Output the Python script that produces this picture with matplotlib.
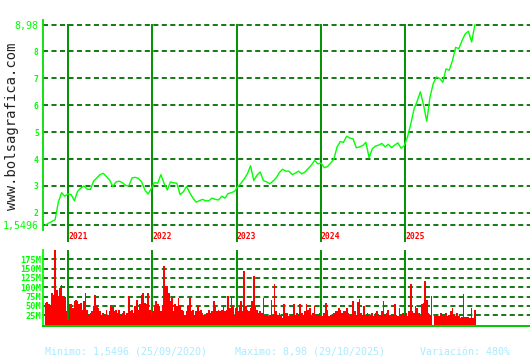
import matplotlib
matplotlib.use('Agg')
import matplotlib.pyplot as plt
import matplotlib.dates as mdates
import matplotlib.transforms as mtransforms
import numpy as np
import pandas as pd

# ---------------- data ----------------
price = [1.55, 1.62, 1.68, 1.75, 2.40, 2.75, 2.62, 2.70, 2.68, 2.45,
         2.80, 2.92, 3.00, 2.88, 2.87, 3.18, 3.30, 3.42, 3.47, 3.35,
         3.22, 2.98, 3.15, 3.18, 3.12, 3.02, 3.00, 3.30, 3.32, 3.28,
         3.15, 2.85, 2.70, 2.90, 3.13, 3.10, 3.42, 3.10, 2.85, 3.15,
         3.12, 3.10, 2.68, 2.78, 2.98, 2.75, 2.55, 2.40, 2.45, 2.50,
         2.45, 2.45, 2.55, 2.50, 2.48, 2.62, 2.55, 2.72, 2.75, 2.80,
         2.98, 3.10, 3.26, 3.45, 3.75, 3.20, 3.40, 3.52, 3.20, 3.15,
         3.08, 3.18, 3.30, 3.50, 3.62, 3.55, 3.55, 3.42, 3.48, 3.55,
         3.45, 3.52, 3.65, 3.78, 3.95, 3.82, 3.85, 3.68, 3.72, 3.85,
         4.00, 4.45, 4.65, 4.62, 4.85, 4.78, 4.75, 4.42, 4.45, 4.50,
         4.62, 4.05, 4.38, 4.48, 4.52, 4.58, 4.45, 4.55, 4.42, 4.52,
         4.60, 4.40, 4.50, 4.83, 5.30, 5.85, 6.15, 6.50, 6.00, 5.40,
         6.30, 6.80, 7.05, 7.00, 6.85, 7.35, 7.30, 7.65, 8.15, 8.10,
         8.40, 8.65, 8.75, 8.35, 8.98]

volume_m = [58, 60, 55, 52, 85, 80, 200, 94, 76, 98, 107, 76, 73, 36, 13, 54, 55, 45, 63, 67,
            63, 54, 58, 40, 62, 85, 40, 27, 31, 36, 49, 80, 49, 45, 36, 27, 31, 27, 40, 27,
            36, 52, 46, 36, 40, 31, 40, 27, 31, 36, 27, 31, 76, 36, 40, 31, 49, 67, 40, 54,
            80, 85, 58, 54, 85, 40, 27, 36, 49, 63, 54, 49, 36, 49, 156, 104, 103, 85, 63, 71,
            36, 54, 49, 71, 49, 40, 36, 27, 36, 49, 71, 36, 40, 27, 36, 49, 36, 40, 31, 27,
            22, 31, 40, 31, 36, 63, 49, 36, 40, 36, 40, 49, 36, 40, 76, 45, 71, 49, 27, 45,
            36, 49, 63, 36, 145, 49, 40, 36, 45, 63, 131, 49, 40, 31, 36, 31,
            71, 22, 27, 22, 27, 67, 27, 109, 36, 27, 31, 27, 18, 54, 31, 31, 22, 25, 27, 54,
            27, 31, 27, 54, 31, 27, 36, 54, 40, 45, 27, 31, 49, 27, 27, 31, 22, 22, 31, 58,
            40, 22, 27, 27, 31, 36, 36, 45, 40, 31, 36, 36, 45, 31, 22, 27, 63, 36, 27, 61,
            70, 31, 27, 49, 27, 31, 22, 27, 31, 22, 31, 36, 27, 27, 36, 63, 27, 31, 40, 27,
            22, 27, 55, 27, 22, 45, 27, 31, 27, 31, 22, 36, 109, 36, 31, 49, 45, 31, 22, 54,
            58, 118, 67, 31, 27, 76, 0, 27, 27, 22, 22, 31, 27, 22, 31, 22, 27, 36, 45, 27,
            22, 31, 22, 18, 20, 82, 20, 20, 20, 18, 45, 18, 40]

start_date = '2020-09-25'
end_date = '2025-10-29'
years = [2021, 2022, 2023, 2024, 2025]
price_ticks = [1.5496, 2, 3, 4, 5, 6, 7, 8, 8.98]
price_tick_labels = ['1,5496', '2', '3', '4', '5', '6', '7', '8', '8,98']
vol_ticks_m = [25, 50, 75, 100, 125, 150, 175]
vol_tick_labels = ['25M', '50M', '75M', '100M', '125M', '150M', '175M']
footer = ['Minimo: 1,5496 (25/09/2020)', 'Maximo: 8,98 (29/10/2025)', 'Variación: 480%']
watermark = 'www.bolsagrafica.com'

# ---------------- layout ----------------
W, H = 530, 360
fig = plt.figure(figsize=(W / 100, H / 100), dpi=100)
fig.patch.set_facecolor('white')

def fx(px):
    return px / W

def fy(py):
    return 1 - py / H

MONO = 'DejaVu Sans Mono'
GRID = '#006e00'
YEARLINE = '#009000'
BRIGHT = '#00ff00'

xmin = mdates.date2num(pd.Timestamp('2020-09-14'))
xmax = mdates.date2num(pd.Timestamp('2026-06-25'))

# main price axes: pixel rows 20 .. 242
ax1 = fig.add_axes([fx(43), fy(242), 487 / W, 222 / H])
ppu = 200 / (8.98 - 1.5496)
ax1.set_ylim(1.5496 - 17 / ppu, 8.98 + 5 / ppu)
ax1.set_xlim(xmin, xmax)
for s in ax1.spines.values():
    s.set_visible(False)
ax1.set_facecolor('none')

for v in price_ticks:
    ax1.axhline(v, color=GRID, lw=1.3, dashes=(2.8, 1.9), zorder=1)

yr_ymax = (242 - 25) / 222
trans = mtransforms.blended_transform_factory(ax1.transData, ax1.transAxes)
for y in years:
    xd = mdates.date2num(pd.Timestamp(f'{y}-01-01'))
    ax1.axvline(xd, ymin=0, ymax=yr_ymax, color=YEARLINE, lw=1.4, zorder=2)
    ax1.text(xd, (242 - 236.5) / 222, str(y),
             transform=trans, color='#ff0000', fontsize=5.8, fontweight='bold',
             family=MONO, ha='left', va='center', zorder=4)

# left spine
ax1.plot([0, 0], [1.0, (242 - 230) / 222], transform=ax1.transAxes,
         color='#00e000', lw=1.3, clip_on=False, zorder=3)

pdates = pd.date_range(start_date, end_date, periods=len(price))
ax1.plot(mdates.date2num(pdates), price, color=BRIGHT, lw=1.0, zorder=3)

ax1.set_xticks([])
ax1.set_yticks(price_ticks)
ax1.set_yticklabels(price_tick_labels)
ax1.tick_params(axis='y', length=0, pad=3.0, colors=BRIGHT)
for lab in ax1.get_yticklabels():
    lab.set_family(MONO)
    if ',' in lab.get_text():
        lab.set_fontsize(7.2)
        lab.set_fontweight('normal')
    else:
        lab.set_fontsize(5.8)
        lab.set_fontweight('bold')

# volume axes: pixel rows 250 .. 326
ax2 = fig.add_axes([fx(43), fy(326), 487 / W, 76 / H])
pxm = 56 / 150.0
zero_px = 315.3 + 25 * pxm
ax2.set_ylim(-(326 - zero_px) / pxm * 1e6, (zero_px - 250) / pxm * 1e6)
ax2.set_xlim(xmin, xmax)
for s in ax2.spines.values():
    s.set_visible(False)
ax2.set_facecolor('none')

for v in vol_ticks_m:
    ax2.axhline(v * 1e6, color=GRID, lw=1.3, dashes=(2.8, 1.9), zorder=1)
for y in years:
    ax2.axvline(mdates.date2num(pd.Timestamp(f'{y}-01-01')), color=YEARLINE, lw=1.4, zorder=1)

vdates = pd.date_range(start_date, end_date, periods=len(volume_m))
step = (mdates.date2num(vdates[1]) - mdates.date2num(vdates[0]))
ax2.bar(mdates.date2num(vdates), np.array(volume_m) * 1e6, width=step * 1.05,
        color='#ff0000', linewidth=0, align='center', zorder=2)

ax2.plot([0, 0], [0, 1], transform=ax2.transAxes, color=BRIGHT, lw=1.3, clip_on=False, zorder=3)
ax2.plot([0, 1], [0, 0], transform=ax2.transAxes, color='#00c800', lw=1.4, clip_on=False, zorder=3)

ax2.set_xticks([])
ax2.set_yticks([v * 1e6 for v in vol_ticks_m])
ax2.set_yticklabels(vol_tick_labels)
ax2.tick_params(axis='y', length=0, pad=1.0, colors=BRIGHT)
for lab in ax2.get_yticklabels():
    lab.set_family(MONO)
    lab.set_fontsize(6.2)
    lab.set_fontweight('bold')

# footer
CYAN = '#a8ecff'
fig.text(fx(45), fy(352), footer[0], color=CYAN, fontsize=7.2, family=MONO, va='center', ha='left')
fig.text(fx(235), fy(352), footer[1], color=CYAN, fontsize=7.2, family=MONO, va='center', ha='left')
fig.text(fx(420), fy(352), footer[2], color=CYAN, fontsize=7.2, family=MONO, va='center', ha='left')

# watermark
fig.text(fx(12), fy(126), watermark, color='#222222', fontsize=10, family=MONO,
         rotation=90, va='center', ha='center')

fig.savefig('out.png', dpi=100, facecolor='white')
